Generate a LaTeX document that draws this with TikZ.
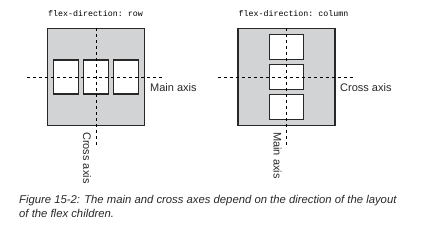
\documentclass[tikz,border=0pt]{standalone}
\usepackage{fontspec}
\setmainfont{Liberation Sans}
\setmonofont{Liberation Mono}
\usepackage{tikz}

\definecolor{boxgray}{RGB}{210,211,213}
\definecolor{inkgray}{RGB}{40,40,40}

\tikzset{
    container/.style={draw=inkgray, line width=1.3pt, fill=boxgray, minimum width=97pt, minimum height=97pt, inner sep=0pt},
    child/.style={draw=inkgray, line width=1.3pt, fill=white, inner sep=0pt},
    axis/.style={draw=black, line width=1pt, dash pattern=on 3pt off 3pt},
    label/.style={font=\fontsize{11}{13}\selectfont, text=inkgray, inner sep=0pt},
    title/.style={font=\fontsize{8.3}{10}\selectfont\ttfamily, text=black}
}

\begin{document}
\begin{tikzpicture}[x=1pt, y=-1pt]
    \useasboundingbox (0,0) rectangle (436,242);

    % row layout
    \node[title] (Trow) at (95.5,14) {flex-direction: row};
    \node[container] (Row) at (96,77) {};
    \node[child, minimum width=24.5pt, minimum height=34pt] (R1) at (66,77) {};
    \node[child, minimum width=24.5pt, minimum height=34pt] (R2) at (96,77) {};
    \node[child, minimum width=24.5pt, minimum height=34pt] (R3) at (126,77) {};
    \coordinate (RowW) at (27,77);
    \coordinate (RowE) at (163,77);
    \coordinate (RowN) at (96,28);
    \coordinate (RowS) at (96,145);
    \draw[axis] (RowW) -- (RowE);
    \draw[axis] (RowN) -- (RowS);
    \node[label, anchor=west] (RowMain) at (150,88) {Main axis};
    \node[label, rotate=-90, anchor=west] (RowCross) at (87,132) {Cross axis};

    % column layout
    \node[title] (Tcol) at (293.5,14) {flex-direction: column};
    \node[container] (Col) at (286.5,77) {};
    \node[child, minimum width=34pt, minimum height=24.5pt] (C1) at (286.5,47) {};
    \node[child, minimum width=34pt, minimum height=24.5pt] (C2) at (286.5,77) {};
    \node[child, minimum width=34pt, minimum height=24.5pt] (C3) at (286.5,107) {};
    \coordinate (ColW) at (218,77);
    \coordinate (ColE) at (354,77);
    \coordinate (ColN) at (286.5,28);
    \coordinate (ColS) at (286.5,145);
    \draw[axis] (ColW) -- (ColE);
    \draw[axis] (ColN) -- (ColS);
    \node[label, anchor=west] (ColCross) at (340,88) {Cross axis};
    \node[label, rotate=-90, anchor=west] (ColMain) at (277.5,132) {Main axis};

    % caption
    \node[anchor=north west, align=left, inner sep=0pt, text=inkgray,
          font=\fontsize{11.3}{14}\selectfont\itshape] (Caption) at (19,195)
        {Figure 15-2: The main and cross axes depend on the direction of the layout\\
         of the flex children.};
\end{tikzpicture}
\end{document}
